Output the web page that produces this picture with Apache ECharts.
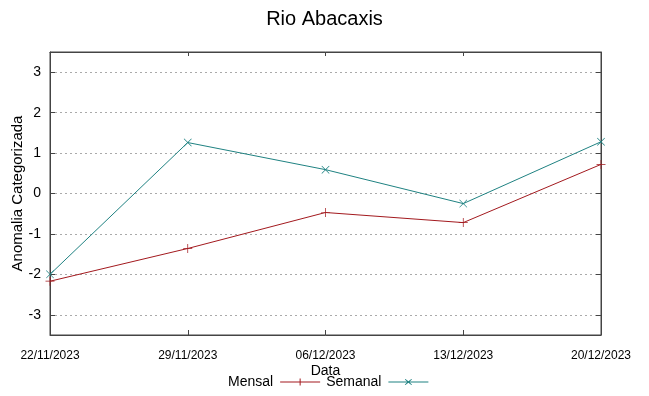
<!DOCTYPE html>
<html><head><meta charset="utf-8">
<script src="https://cdn.jsdelivr.net/npm/echarts@6/dist/echarts.min.js"></script>
<style>html,body{margin:0;padding:0;background:#fff}#c{width:649px;height:396px}</style>
</head><body><div id="c"></div>
<script>
const categories = ['22/11/2023','29/11/2023','06/12/2023','13/12/2023','20/12/2023'];
const mensal = [-2.17, -1.36, -0.47, -0.72, 0.72];
const semanal = [-2.0, 1.26, 0.59, -0.25, 1.28];
const yTicks = [-3, -2, -1, 0, 1, 2, 3];

const redColor = '#a3191e';
const tealColor = '#1f8282';
const axisColor = '#444';
const plusSym = 'path://M5,0 L5.8,0 L5.8,4.6 L10.4,4.6 L10.4,5.4 L5.8,5.4 L5.8,10 L5,10 L5,5.4 L0.4,5.4 L0.4,4.6 L5,4.6 Z';
const crossSym = 'path://M0.6,0 L5,4.4 L9.4,0 L10,0.6 L5.6,5 L10,9.4 L9.4,10 L5,5.6 L0.6,10 L0,9.4 L4.4,5 L0,0.6 Z';
const legPlus = 'path://M0,4.5 L40,4.5 L40,5.5 L0,5.5 Z M19.5,1.5 L20.5,1.5 L20.5,8.5 L19.5,8.5 Z';
const legCross = 'path://M0,4.5 L40,4.5 L40,5.5 L0,5.5 Z M17,2 L20,4.3 L23,2 L23.6,2.6 L20.7,5 L23.6,7.4 L23,8 L20,5.7 L17,8 L16.4,7.4 L19.3,5 L16.4,2.6 Z';

const chart = echarts.init(document.getElementById('c'), null, {renderer: 'canvas'});
chart.setOption({
  animation: false,
  backgroundColor: '#fff',
  textStyle: {fontFamily: 'Liberation Sans, Arial, sans-serif'},
  title: {text: 'Rio Abacaxis', left: 'center', top: 4,
    textStyle: {fontSize: 20, fontWeight: 'normal', color: '#000', fontFamily: 'Liberation Sans'}},
  grid: {left: 50, right: 48, top: 52, bottom: 61, outerBoundsMode: 'none', containLabel: false,
    show: true, borderColor: axisColor, borderWidth: 1, backgroundColor: 'transparent'},
  legend: {
    bottom: 2, left: 223, align: 'right', itemWidth: 40, itemHeight: 10, itemGap: 6,
    textStyle: {fontSize: 14, color: '#000', fontFamily: 'Liberation Sans', padding: [0, 2, 0, 0]},
    data: [
      {name: 'Mensal', icon: legPlus, itemStyle: {color: redColor}},
      {name: 'Semanal', icon: legCross, itemStyle: {color: tealColor}}
    ]
  },
  xAxis: [{
    type: 'category', data: categories, boundaryGap: false, position: 'bottom',
    name: 'Data', nameLocation: 'middle', nameGap: 29, nameMoveOverlap: false,
    nameTextStyle: {fontSize: 14, color: '#000', fontFamily: 'Liberation Sans'},
    axisLine: {onZero: false, lineStyle: {color: axisColor}},
    axisTick: {inside: true, length: 5, lineStyle: {color: axisColor}},
    axisLabel: {color: '#000', fontSize: 12, margin: 15, fontFamily: 'Liberation Sans Narrow, Liberation Sans', interval: 0},
    splitLine: {show: false}
  }, {
    type: 'category', data: categories, boundaryGap: false, position: 'top',
    axisLine: {onZero: false, lineStyle: {color: axisColor}},
    axisTick: {inside: true, length: 4, lineStyle: {color: axisColor}},
    axisLabel: {show: false}, splitLine: {show: false}
  }],
  yAxis: [{
    type: 'value', min: -3.5, max: 3.5, position: 'left',
    name: 'Anomalia Categorizada', nameLocation: 'middle', nameGap: 25, nameMoveOverlap: false,
    nameTextStyle: {fontSize: 15, color: '#000', fontFamily: 'Liberation Sans'},
    axisLine: {show: true, onZero: false, lineStyle: {color: axisColor}},
    axisTick: {show: true, inside: true, length: 5, lineStyle: {color: axisColor}, customValues: yTicks},
    axisLabel: {color: '#000', fontSize: 14, margin: 9, fontFamily: 'Liberation Sans', customValues: yTicks},
    splitLine: {show: true, lineStyle: {color: '#aaa', type: [2, 3], width: 1}, customValues: yTicks}
  }, {
    type: 'value', min: -3.5, max: 3.5, position: 'right',
    axisLine: {show: true, onZero: false, lineStyle: {color: axisColor}},
    axisTick: {show: true, inside: true, length: 5, lineStyle: {color: axisColor}, customValues: yTicks},
    axisLabel: {show: false}, splitLine: {show: false}
  }],
  series: [
    {name: 'Mensal', type: 'line', data: mensal, symbol: plusSym, symbolSize: 9, showSymbol: true,
      xAxisIndex: 0, yAxisIndex: 0,
      lineStyle: {color: redColor, width: 1}, itemStyle: {color: redColor}},
    {name: 'Semanal', type: 'line', data: semanal, symbol: crossSym, symbolSize: 8, showSymbol: true,
      xAxisIndex: 0, yAxisIndex: 0,
      lineStyle: {color: tealColor, width: 1}, itemStyle: {color: tealColor}}
  ]
});
</script>
</body></html>
